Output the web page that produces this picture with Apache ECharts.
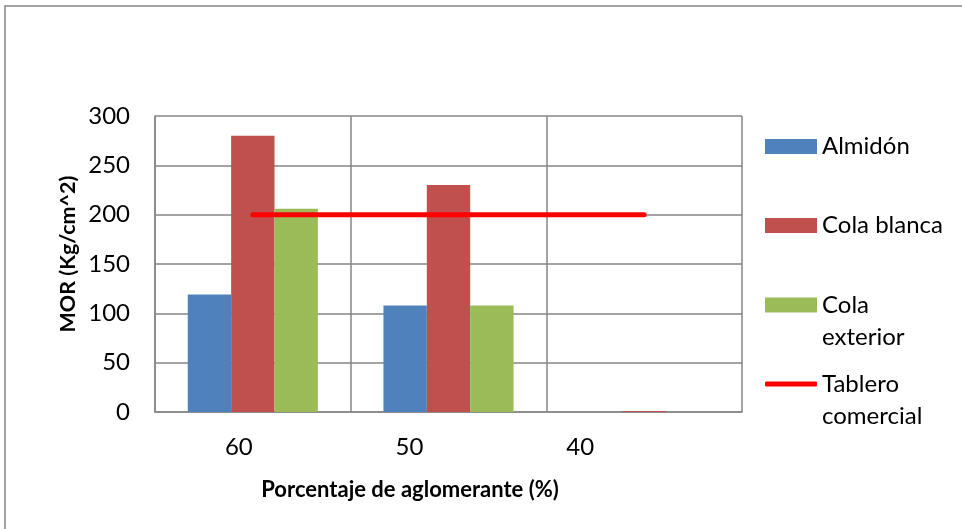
<!DOCTYPE html>
<html>
<head>
<meta charset="utf-8">
<script src="https://cdn.jsdelivr.net/npm/echarts@6/dist/echarts.min.js"></script>
<style>
  html, body { margin: 0; padding: 0; background: #fff; }
  #chart { width: 962px; height: 529px; }
</style>
</head>
<body>
<div id="chart"></div>
<script>
// Binder percentage categories
const categories = ['60', '50', '40'];
// MOR values (Kg/cm^2) per binder type
const almidon = [119, 108, 0];
const colaBlanca = [280, 230, 1];
const colaExterior = [206, 108, 0];
// Commercial board reference level
const tableroComercial = [200, 200, 200];
// Value axis ticks
const yTicks = [0, 50, 100, 150, 200, 250, 300];

const FONT = 'Lato';
const FS = 24;
const grey = '#868686';

const chart = echarts.init(document.getElementById('chart'));

// shift each category label left by a given amount (px)
const labelShift = [28, 78, 128];

// one legend block per entry; two-word names wrap, first line beside the icon
function legendBox(name, top, twoLines, icon, iconH) {
  return {
    data: [{ name: name, icon: icon }],
    orient: 'vertical',
    left: 765,
    top: top,
    padding: 0,
    itemWidth: 52,
    itemHeight: iconH,
    itemGap: 0,
    textStyle: {
      fontFamily: FONT,
      fontSize: FS,
      color: '#000',
      lineHeight: twoLines ? 32 : 24
    },
    formatter: n => twoLines ? ' \n' + n.replace(' ', '\n') : n
  };
}

chart.setOption({
  animation: false,
  backgroundColor: '#fff',
  grid: { left: 155, right: 220, top: 116, bottom: 117, containLabel: false },
  graphic: [
    {
      type: 'rect',
      shape: { x: 5, y: 6, width: 980, height: 560 },
      style: { fill: 'none', stroke: grey, lineWidth: 1.5 },
      silent: true
    },
    {
      type: 'text',
      x: 410, y: 490,
      style: {
        text: 'Porcentaje de aglomerante (%)',
        fontFamily: FONT, fontWeight: 'bold', fontSize: 22, fill: '#000',
        align: 'center', verticalAlign: 'middle'
      }
    },
    {
      type: 'text',
      rotation: Math.PI / 2,
      x: 68, y: 254,
      style: {
        text: 'MOR (Kg/cm^2)',
        fontFamily: FONT, fontWeight: 'bold', fontSize: 21.5, fill: '#000',
        align: 'center', verticalAlign: 'middle'
      }
    }
  ],
  legend: [
    legendBox('Almidón', 134.5, false, 'rect', 15),
    legendBox('Cola blanca', 213.5, false, 'rect', 15),
    legendBox('Cola exterior', 257, true, 'rect', 15),
    legendBox('Tablero comercial', 336, true, 'roundRect', 5)
  ],
  xAxis: {
    type: 'category',
    data: categories,
    boundaryGap: true,
    axisLine: { lineStyle: { color: grey, width: 1.5 } },
    axisTick: { show: false },
    splitLine: { show: true, lineStyle: { color: grey, width: 1.5 } },
    axisLabel: {
      margin: 23,
      fontFamily: FONT,
      fontSize: FS,
      color: '#000',
      formatter: (v, i) => '{c' + i + '|' + v + '}',
      rich: {
        c0: { fontFamily: FONT, fontSize: FS, color: '#000', padding: [0, labelShift[0], 0, 0] },
        c1: { fontFamily: FONT, fontSize: FS, color: '#000', padding: [0, labelShift[1], 0, 0] },
        c2: { fontFamily: FONT, fontSize: FS, color: '#000', padding: [0, labelShift[2], 0, 0] }
      }
    }
  },
  yAxis: {
    type: 'value',
    min: yTicks[0],
    max: yTicks[yTicks.length - 1],
    interval: yTicks[1] - yTicks[0],
    axisLine: { show: true, lineStyle: { color: grey, width: 1.5 } },
    axisTick: { show: false },
    splitLine: { show: true, lineStyle: { color: grey, width: 1.5 } },
    axisLabel: { margin: 25, fontFamily: FONT, fontSize: FS, color: '#000' }
  },
  series: [
    {
      name: 'Almidón', type: 'bar', data: almidon,
      barGap: '0%', barCategoryGap: '33.5%',
      itemStyle: { color: '#4F81BD' }
    },
    {
      name: 'Cola blanca', type: 'bar', data: colaBlanca,
      itemStyle: { color: '#C0504D' }
    },
    {
      name: 'Cola exterior', type: 'bar', data: colaExterior,
      itemStyle: { color: '#9BBB59' }
    },
    {
      name: 'Tablero comercial', type: 'line', data: tableroComercial,
      showSymbol: false, symbol: 'none',
      lineStyle: { color: '#FF0000', width: 5, cap: 'round' },
      itemStyle: { color: '#FF0000' },
      z: 5
    }
  ]
});
</script>
</body>
</html>
